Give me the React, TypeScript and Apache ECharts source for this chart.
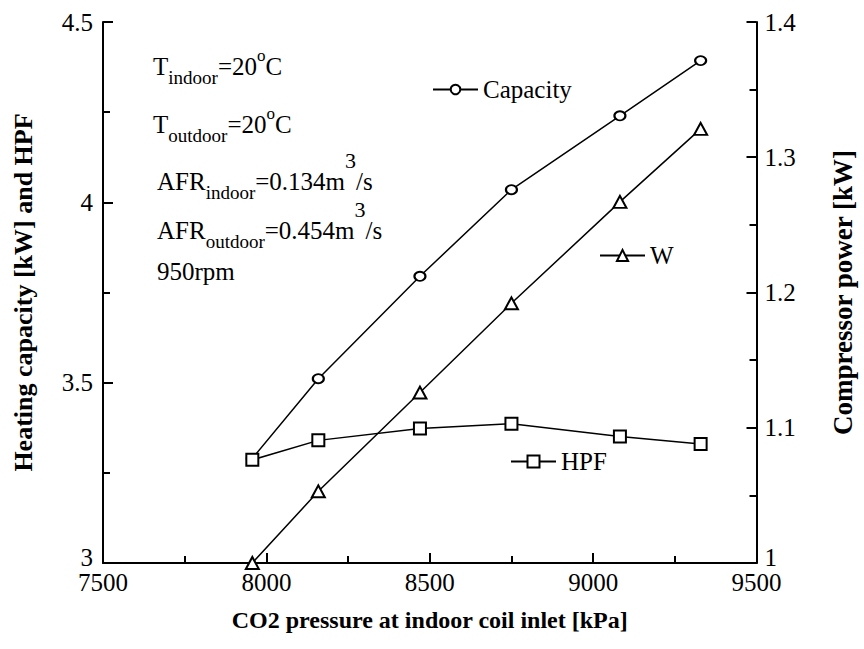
import React, { useEffect, useRef } from "react";
import * as echarts from "echarts";

const pressure = [7957, 8159, 8470, 8750, 9082, 9329];
const capacity = [3.29, 3.511, 3.795, 4.035, 4.24, 4.393];
const hpf = [3.286, 3.34, 3.373, 3.386, 3.351, 3.33];
const power = [1.0, 1.053, 1.126, 1.192, 1.267, 1.321];

const xTicks = { min: 7500, max: 9500, interval: 500 };
const yLeftTicks = { min: 3, max: 4.5, interval: 0.5 };
const yRightTicks = { min: 1, max: 1.4, interval: 0.1 };

const FONT = "Liberation Serif";

export default function App() {
  const ref = useRef<HTMLDivElement>(null);
  useEffect(() => {
    if (!ref.current) return;
    const chart = echarts.init(ref.current, null, { renderer: "svg" });
    const axisCommon = () => ({
      axisLine: { show: true, onZero: false, lineStyle: { color: "#000", width: 2 } },
      axisTick: { show: true, inside: true, length: 10, lineStyle: { color: "#000", width: 2 } },
      minorTick: { show: true, splitNumber: 2, length: 7, lineStyle: { color: "#000", width: 2 } },
      splitLine: { show: false },
      minorSplitLine: { show: false },
    });
    const labelStyle = { color: "#000", fontFamily: FONT, fontSize: 25, fontWeight: "normal" as const };
    const nameStyle = { color: "#000", fontFamily: FONT, fontWeight: "bold" as const };
    const lineCommon = {
      type: "line",
      clip: false,
      lineStyle: { color: "#000", width: 1.5 },
      itemStyle: { color: "#fff", borderColor: "#000", borderWidth: 2 },
      emphasis: { disabled: true },
    };
    const rich = {
      sub: { fontSize: 19, fontFamily: FONT, fontWeight: "normal", padding: [22, 0, 0, 0] },
      sup: { fontSize: 17, fontFamily: FONT, fontWeight: "normal", padding: [0, 0, 22, 0] },
      sup3: { fontSize: 22, fontFamily: FONT, fontWeight: "normal", padding: [0, 0, 42, 0] },
    };
    const annText = (text: string, x: number, y: number) => ({
      type: "text",
      x,
      y,
      style: {
        text,
        rich,
        fill: "#000",
        fontFamily: FONT,
        fontSize: 25,
        fontWeight: "normal",
        verticalAlign: "middle",
        align: "left",
      },
    });
    const legendCommon = {
      orient: "horizontal",
      padding: 0,
      itemWidth: 45,
      itemGap: 0,
      selectedMode: false,
      textStyle: { color: "#000", fontFamily: FONT, fontSize: 25, fontWeight: "normal", padding: [0, 0, 12, 0] },
    };
    const bottomRich = { lo: { fontFamily: FONT, fontSize: 25, fontWeight: "normal", color: "#000", padding: [0, 0, 12, 0] } };
    chart.setOption({
      animation: false,
      backgroundColor: "#fff",
      textStyle: { fontFamily: FONT },
      grid: { left: 103, right: 105, top: 22, bottom: 86, containLabel: false },
      legend: [
        { ...legendCommon, data: ["Capacity"], left: 432, top: 77, itemHeight: 12 },
        { ...legendCommon, data: ["W"], left: 599, top: 243, itemHeight: 14 },
        { ...legendCommon, data: ["HPF"], left: 510, top: 449, itemHeight: 15 },
      ],
      xAxis: {
        type: "value",
        min: xTicks.min,
        max: xTicks.max,
        interval: xTicks.interval,
        ...axisCommon(),
        axisLabel: { ...labelStyle, margin: 7, formatter: (v: number) => String(v) },
        name: "CO2 pressure at indoor coil inlet [kPa]",
        nameLocation: "middle",
        nameGap: 45,
        nameTextStyle: { ...nameStyle, fontSize: 24 },
      },
      yAxis: [
        {
          type: "value",
          position: "left",
          min: yLeftTicks.min,
          max: yLeftTicks.max,
          interval: yLeftTicks.interval,
          ...axisCommon(),
          axisLabel: {
            ...labelStyle,
            margin: 10,
            formatter: (v: number) => (v === yLeftTicks.min ? `{lo|${v}}` : String(v)),
            rich: bottomRich,
          },
          name: "Heating capacity [kW] and HPF",
          nameLocation: "middle",
          nameGap: 80,
          nameRotate: 90,
          nameTextStyle: { ...nameStyle, fontSize: 26, verticalAlign: "middle" },
        },
        {
          type: "value",
          position: "right",
          min: yRightTicks.min,
          max: yRightTicks.max,
          interval: yRightTicks.interval,
          ...axisCommon(),
          axisLabel: {
            ...labelStyle,
            margin: 8,
            formatter: (v: number) => {
              const s = String(+v.toFixed(2));
              return v === yRightTicks.min ? `{lo|${s}}` : s;
            },
            rich: bottomRich,
          },
          name: "Compressor power [kW]",
          nameLocation: "middle",
          nameGap: 86,
          nameRotate: 90,
          nameTextStyle: { ...nameStyle, fontSize: 27, verticalAlign: "middle" },
        },
      ],
      series: [
        {
          ...lineCommon,
          name: "Capacity",
          yAxisIndex: 0,
          symbol: "circle",
          symbolSize: [11, 9],
          data: pressure.map((p, i) => [p, capacity[i]]),
        },
        {
          ...lineCommon,
          name: "W",
          yAxisIndex: 1,
          symbol: "triangle",
          symbolSize: [13, 12],
          data: pressure.map((p, i) => [p, power[i]]),
        },
        {
          ...lineCommon,
          name: "HPF",
          yAxisIndex: 0,
          symbol: "rect",
          symbolSize: [12, 12],
          data: pressure.map((p, i) => [p, hpf[i]]),
        },
      ],
      graphic: [
        annText("T{sub|indoor}=20{sup|o}C", 153, 66),
        annText("T{sub|outdoor}=20{sup|o}C", 153, 124),
        annText("AFR{sub|indoor}=0.134m{sup3|3}/s", 157, 181),
        annText("AFR{sub|outdoor}=0.454m{sup3|3}/s", 157, 230),
        annText("950rpm", 157, 271),
      ],
    });
    return () => chart.dispose();
  }, []);
  return <div ref={ref} style={{ width: 864, height: 649, position: "absolute", left: 0, top: 0 }} />;
}
